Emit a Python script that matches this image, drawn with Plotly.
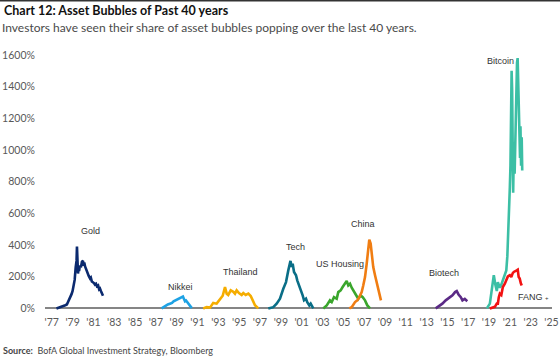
import plotly.graph_objects as go

# ---------------- data (year, % gain) ----------------
gold_x = [1977.45, 1977.7, 1977.9, 1978.1, 1978.3, 1978.45, 1978.6, 1978.75, 1978.9, 1979.0, 1979.1, 1979.2,
          1979.3, 1979.38, 1979.42, 1979.46, 1979.52, 1979.58, 1979.62, 1979.7, 1979.8, 1979.9, 1980.0, 1980.05,
          1980.12, 1980.2, 1980.3, 1980.38, 1980.45, 1980.55, 1980.67, 1980.75, 1980.85, 1980.96, 1981.05, 1981.15,
          1981.25, 1981.34, 1981.45, 1981.55, 1981.63, 1981.72, 1981.8, 1981.92]
gold_y = [0, 5, 10, 12, 20, 25, 45, 70, 90, 110, 140, 180,
          260, 300, 390, 280, 220, 260, 235, 270, 260, 295, 300, 270,
          290, 265, 245, 240, 215, 205, 190, 195, 170, 165, 160, 150,
          155, 140, 145, 120, 125, 110, 100, 80]

nikkei_x = [1987.55, 1987.75, 1987.95, 1988.15, 1988.35, 1988.55, 1988.7, 1988.85, 1989.0, 1989.15, 1989.3,
            1989.45, 1989.6, 1989.7, 1989.8, 1989.9, 1990.0, 1990.1, 1990.25, 1990.45]
nikkei_y = [0, 10, 20, 25, 30, 35, 45, 50, 55, 55, 60, 65, 75, 60, 45, 50, 40, 30, 15, 2]

thai_x = [1991.55, 1991.88, 1992.2, 1992.51, 1992.84, 1993.16, 1993.42, 1993.64, 1993.8, 1993.95, 1994.19,
          1994.44, 1994.6, 1994.76, 1994.98, 1995.24, 1995.4, 1995.63, 1995.88, 1996.11, 1996.3, 1996.52, 1996.84]
thai_y = [0, 8, 5, 35, 30, 55, 80, 135, 93, 85, 114, 105, 93, 114, 97, 85, 97, 85, 93, 78, 50, 20, 0]

tech_x = [1997.8, 1998.28, 1998.6, 1998.92, 1999.24, 1999.5, 1999.72, 1999.88, 1999.93, 2000.05, 2000.14,
          2000.27, 2000.46, 2000.58, 2000.78, 2000.91, 2001.1, 2001.23, 2001.42, 2001.54, 2001.74, 2001.87, 2002.12]
tech_y = [0, 8, 30, 61, 124, 166, 240, 293, 300, 261, 282, 230, 209, 177, 145, 114, 82, 51, 61, 40, 19, 30, 0]

housing_x = [2003.08, 2003.41, 2003.72, 2003.89, 2004.11, 2004.37, 2004.52, 2004.75, 2004.94, 2005.17, 2005.33,
             2005.48, 2005.65, 2005.81, 2006.03, 2006.22, 2006.44, 2006.67, 2006.87, 2007.09, 2007.31, 2007.57]
housing_y = [0, 19, 51, 40, 71, 61, 103, 114, 135, 156, 173, 145, 156, 131, 103, 82, 61, 82, 71, 51, 19, 0]

china_x = [2005.58, 2005.81, 2006.13, 2006.35, 2006.54, 2006.77, 2006.92, 2007.09, 2007.25, 2007.37, 2007.5,
           2007.63, 2007.76, 2007.88, 2008.05, 2008.21, 2008.36, 2008.53, 2008.62]
china_y = [0, 8, 40, 51, 71, 103, 145, 198, 282, 367, 434, 409, 324, 261, 209, 166, 124, 82, 51]

biotech_x = [2013.88, 2014.2, 2014.52, 2014.84, 2015.16, 2015.49, 2015.74, 2015.9, 2016.07, 2016.29, 2016.45,
             2016.67, 2016.91]
biotech_y = [0, 13, 30, 51, 68, 82, 103, 109, 88, 71, 51, 60, 45]

bitcoin_x = [2018.79, 2019.08, 2019.27, 2019.37, 2019.46, 2019.61, 2019.75, 2019.85, 2020.04, 2020.18, 2020.33,
             2020.52, 2020.66, 2020.76, 2020.84, 2020.9, 2021.0, 2021.06, 2021.11, 2021.17, 2021.22, 2021.27,
             2021.32, 2021.36, 2021.41, 2021.46, 2021.51, 2021.56, 2021.62, 2021.69, 2021.75, 2021.8, 2021.86,
             2021.92, 2021.98, 2022.02, 2022.08, 2022.14, 2022.19]
bitcoin_y = [0, 30, 120, 195, 210, 150, 110, 165, 130, 150, 180,
             220, 240, 330, 450, 620, 765, 900, 1200, 1500, 1380, 1100,
             730, 900, 1050, 850, 1000, 1250, 1430, 1550, 1580, 1400, 1250,
             1100, 950, 1150, 900, 1080, 870]

fang_x = [2019.08, 2019.37, 2019.56, 2019.75, 2019.85, 2019.94, 2020.04, 2020.18, 2020.33, 2020.52, 2020.71,
          2020.81, 2021.0, 2021.14, 2021.28, 2021.38, 2021.66, 2021.76, 2021.85, 2021.95, 2022.05, 2022.14]
fang_y = [0, 5, 10, 30, 30, 71, 93, 85, 135, 156, 188, 202, 210, 198, 223, 230, 240, 244, 198, 188, 160, 145]

series = [
    ("Gold", gold_x, gold_y, "#0b2a6f"),
    ("Nikkei", nikkei_x, nikkei_y, "#1ea2e4"),
    ("Thailand", thai_x, thai_y, "#f5ad00"),
    ("Tech", tech_x, tech_y, "#0a6e87"),
    ("US Housing", housing_x, housing_y, "#3aa62c"),
    ("China", china_x, china_y, "#f07d12"),
    ("Biotech", biotech_x, biotech_y, "#5b2a86"),
    ("Bitcoin", bitcoin_x, bitcoin_y, "#3cbfa5"),
    ("FANG+", fang_x, fang_y, "#f21212"),
]

labels = ["Gold", "Nikkei", "Thailand", "Tech", "US Housing", "China", "Biotech", "Bitcoin",
          "FANG <span style='font-size:6px'>+</span>"]
label_x = [1980.74, 1989.41, 1995.09, 2000.44, 2004.67, 2006.89, 2014.67, 2020.12, 2023.3]
label_y = [490, 133, 228, 386, 278, 531, 221, 1560, 70]

x_tickvals = list(range(1977, 2026, 2))
x_ticktext = ["'" + str(v)[2:] for v in x_tickvals]
y_tickvals = list(range(0, 1601, 200))
y_ticktext = [f"{v}%" for v in y_tickvals]

FONT = "Lato, 'Liberation Sans', Arial, sans-serif"

fig = go.Figure()
for name, xs, ys, col in series:
    fig.add_trace(go.Scatter(x=xs, y=ys, mode="lines", name=name,
                             line=dict(color=col, width=2.6), hoverinfo="skip"))

for t, lx, ly in zip(labels, label_x, label_y):
    fig.add_annotation(x=lx, y=ly, text=t, showarrow=False, xanchor="center", yanchor="middle",
                       font=dict(family="'Liberation Sans', Arial, sans-serif", size=9, color="#333333"))

W, H = 560, 357
ML, MR, MT, MB = 45, 8, 47, 47
PW, PH = W - ML - MR, H - MT - MB


def px(xp):
    return (xp - ML) / PW


def py(yp):
    return 1 + (MT - yp) / PH


fig.add_annotation(xref="paper", yref="paper", x=px(2), y=py(10), xanchor="left", yanchor="middle",
                   text="<b>Chart 12: Asset Bubbles of Past 40 years</b>", showarrow=False,
                   font=dict(family=FONT, size=12.5, color="#111111"))
fig.add_annotation(xref="paper", yref="paper", x=px(0), y=py(27), xanchor="left", yanchor="middle",
                   text="Investors have seen their share of asset bubbles popping over the last 40 years.",
                   showarrow=False, font=dict(family=FONT, size=12, color="#4a4a4a"))
fig.add_annotation(xref="paper", yref="paper", x=px(1), y=py(351), xanchor="left", yanchor="middle",
                   text="<b>Source:</b>  BofA Global Investment Strategy, Bloomberg",
                   showarrow=False, font=dict(family=FONT, size=9, color="#444444"))

fig.add_shape(type="line", xref="paper", yref="paper", x0=px(0), x1=px(W), y0=py(0.7), y1=py(0.7),
              line=dict(color="#333333", width=1.5))

fig.update_layout(
    width=W, height=H, margin=dict(l=ML, r=MR, t=MT, b=MB, autoexpand=False),
    paper_bgcolor="white", plot_bgcolor="white", showlegend=False,
    font=dict(family=FONT, color="#595959"),
    xaxis=dict(range=[1976.35, 2025.05], tickvals=x_tickvals, ticktext=x_ticktext, showgrid=False,
               zeroline=False, showline=False, ticks="outside", ticklen=2, tickcolor="rgba(0,0,0,0)",
               tickfont=dict(size=10.5, color="#595959"), automargin=False),
    yaxis=dict(range=[-10, 1650], tickvals=y_tickvals, ticktext=y_ticktext, showgrid=False,
               zeroline=True, zerolinecolor="#858585", zerolinewidth=2, showline=False,
               ticks="outside", ticklen=7, tickcolor="rgba(0,0,0,0)",
               tickfont=dict(size=10.5, color="#595959"), automargin=False),
)

fig.write_html("out.html", config={"displayModeBar": False},
               post_script="document.body.style.margin='0';document.body.style.overflow='hidden';")
